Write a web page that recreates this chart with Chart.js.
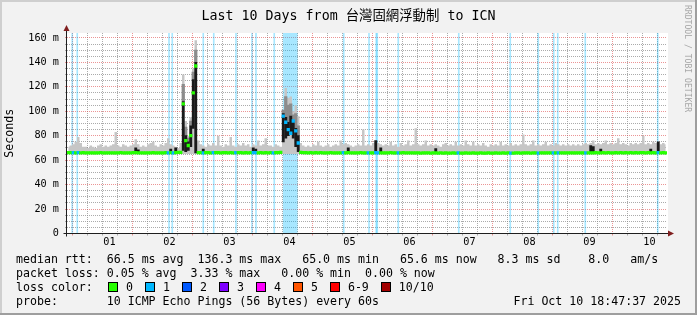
<!DOCTYPE html>
<html><head><meta charset="utf-8">
<script src="https://cdn.jsdelivr.net/npm/chart.js@4.4.1/dist/chart.umd.min.js"></script>
<style>
html,body{margin:0;padding:0;background:#f2f2f2;}
#wrap{position:relative;width:697px;height:315px;overflow:hidden;background:#f2f2f2;font-family:'DejaVu Sans Mono',monospace;color:#000;}
#c{position:absolute;left:0;top:0;}
.t{position:absolute;white-space:pre;font-family:'DejaVu Sans Mono',monospace;}
#title{left:0;top:6px;width:697px;text-align:center;font-size:13.3px;line-height:16px;}
#title .cjk{font-family:'Noto Sans CJK TC','Noto Sans CJK SC',sans-serif;font-size:13.4px;line-height:16px;}
.leg{left:16px;font-size:11.6px;line-height:14px;}
#lossrow{position:absolute;left:108px;top:280px;height:14px;display:flex;align-items:center;font-size:11.6px;line-height:14px;white-space:pre;}
#lossrow .box{display:inline-block;width:10px;height:10px;box-sizing:border-box;border:1px solid #000;margin-right:8px;}
#lossrow .lab{margin-right:12px;}
#date{right:16px;top:294px;font-size:11.6px;line-height:14px;}
#wm{left:693px;top:5px;font-size:8.1px;line-height:10px;color:#a6a6a6;transform:rotate(90deg);transform-origin:0 0;}
.edge{position:absolute;}
</style></head><body>
<div id="wrap">
<canvas id="c" width="697" height="315"></canvas>
<div class="edge" style="left:0;top:0;width:697px;height:2px;background:#cfcfcf"></div>
<div class="edge" style="left:0;top:0;width:2px;height:315px;background:#cfcfcf"></div>
<div class="edge" style="left:0;top:313px;width:697px;height:2px;background:#9e9e9e"></div>
<div class="edge" style="left:695px;top:0;width:2px;height:315px;background:#9e9e9e"></div>
<div id="title" class="t">Last 10 Days from <span class="cjk">台灣固網浮動制</span> to ICN</div>
<div id="wm" class="t">RRDTOOL / TOBI OETIKER</div>
<div class="t leg" style="top:252px">median rtt:  66.5 ms avg  136.3 ms max   65.0 ms min   65.6 ms now   8.3 ms sd    8.0   am/s</div>
<div class="t leg" style="top:266px">packet loss: 0.05 % avg  3.33 % max   0.00 % min  0.00 % now</div>
<div class="t leg" style="top:280px">loss color:</div>
<div id="lossrow"></div>
<div class="t leg" style="top:294px">probe:       10 ICMP Echo Pings (56 Bytes) every 60s</div>
<div id="date" class="t">Fri Oct 10 18:47:37 2025</div>
</div>
<script>
// ---------------- data ----------------
// hours relative to Oct 01 00:00; first hourly sample starts Sep 30 19:00
const hourStart = -5;
const hourEnd = 235;
const yMax = 164;
const dayLabels = ['01','02','03','04','05','06','07','08','09','10'];

// top of the ping smoke per hour (ms)
const smokeTop = [
 71,72,73,75,79,74,71,71,70,72,
 71,70,72,73,71,72,71,72,73,83,
 72,71,73,72,71,72,73,77,73,71,
 72,71,73,74,75,72,71,73,72,74,
 78,73,72,71,70,74,130,92,80,95,
 135,158,76,73,72,71,73,72,74,72,
 80,72,71,73,72,79,72,71,73,72,
 74,72,73,71,73,72,76,72,73,78,
 72,72,71,73,72,71,101,119,111,112,
 100,105,96,74,72,71,72,71,73,72,
 75,72,71,72,73,71,72,73,72,76,
 73,74,73,72,71,72,73,72,85,72,
 73,72,74,76,74,73,72,73,72,75,
 72,73,71,74,72,73,76,72,73,86,
 73,72,73,76,72,73,72,73,72,71,
 73,74,72,73,72,75,72,73,72,76,
 73,72,75,72,73,72,74,72,71,73,
 72,73,72,75,72,73,72,74,72,73,
 72,73,81,73,72,73,76,72,73,72,
 73,75,72,73,72,74,73,72,73,72,
 73,72,73,72,73,72,73,74,73,74,
 76,73,74,73,74,76,73,74,73,74,
 78,73,74,73,72,74,73,74,73,74,
 80,73,74,73,75,74,75,73,74,73
];

// median rtt per hour (ms)
const median = [
 66.2,66.1,66.2,66.0,66.1,66.0,66.1,66.0,65.9,66.0,
 66.0,65.9,66.0,66.1,66.0,65.9,66.0,66.0,65.9,66.0,
 66.0,66.1,66.0,65.9,66.0,66.0,66.1,66.2,66.0,65.9,
 66.0,66.0,65.9,66.0,66.1,66.0,65.9,66.0,66.0,66.1,
 66.0,66.1,66.0,66.2,66.3,66.4,106,76,72,80,
 115,137,66.2,66.1,66.0,66.2,66.1,66.0,66.1,66.2,
 66.1,66.0,66.1,66.2,66.0,66.1,66.0,66.1,66.2,66.1,
 66.0,66.1,66.0,66.1,66.2,66.1,66.0,66.1,66.0,66.1,
 66.0,66.1,66.0,66.1,66.2,66.3,96,91,85,82,
 92,84,74,66.4,66.2,66.1,66.0,66.1,66.0,66.1,
 66.0,66.1,66.0,65.9,66.0,66.1,66.0,66.0,65.9,66.0,
 66.1,66.0,66.1,66.0,65.9,66.0,66.0,66.1,66.0,66.0,
 65.9,66.0,66.0,66.1,66.0,66.0,65.9,66.0,66.0,66.1,
 66.0,65.9,66.0,66.0,66.1,66.0,66.0,65.9,65.9,66.0,
 65.9,65.8,65.9,66.0,65.9,65.8,65.9,65.9,65.8,65.9,
 65.8,65.9,65.8,65.8,65.9,65.8,65.9,65.8,65.8,65.9,
 65.8,65.8,65.9,65.8,65.8,65.9,65.8,65.8,65.9,65.8,
 65.8,65.9,65.8,65.8,65.9,65.8,65.9,65.8,65.8,65.9,
 65.9,65.8,65.9,66.0,65.9,65.8,65.9,65.9,65.8,65.9,
 65.9,66.0,65.9,65.9,66.0,65.9,65.9,66.0,65.9,66.0,
 66.0,65.9,66.0,66.0,65.9,66.0,66.0,65.9,66.0,66.0,
 66.0,66.1,66.0,66.0,66.1,66.0,66.1,66.0,66.0,66.1,
 66.0,66.1,66.0,66.1,66.0,66.1,66.0,66.1,66.0,66.1,
 66.1,66.0,66.1,66.0,66.1,66.0,66.1,66.0,66.1,66.0
];

// dark smoke core (hour index, low, high)
const coreHours = [27,28,41,43,46,47,48,49,50,51,54,74,75,86,87,88,89,90,91,92,112,123,125,147,209,210,213,233,236];
const coreLow   = [65.5,65.5,65.5,65.5,68,67,68,71,86,66,65.5,65.5,65.5,75,78,80,82,78,71,67,65.5,66,65.5,65.5,65.5,65.5,65.5,65.5,66];
const coreHigh  = [70,68.5,69,70,108,80,75,88,126,140,69,70,69,98,95,91,96,92,86,80,70,76,70,69.5,72,71,69,69,75];

// medium smoke (hour index, low, high)
const midHours = [46,47,48,49,50,51,86,87,88,89,90,91,92];
const midLow   = [108,80,75,88,126,140,98,95,91,96,92,86,80];
const midHigh  = [122,87,78,92,132,150,101,112,105,106,97,98,88];

// times (hours) with 1/10 packet loss, and the longer loss period
const lossTimes = [-2.9,-0.9,35.8,37.1,49.5,53.7,62.6,69.0,70.6,77.9,105.7,115.8,118.7,119.1,127.5,151.7,172.3,183.5,189.7,191.3,202.3,231.3];
const lossBand = [81.3, 87.3];

// legend
const lossLabels = ['0','1','2','3','4','5','6-9','10/10'];
const lossColors = ['#26ff00','#00b8ff','#0059ff','#7e00ff','#ff00ff','#ff5500','#ff0000','#a10000'];

// ---------------- legend row ----------------
const row = document.getElementById('lossrow');
lossLabels.forEach((l, k) => {
  const b = document.createElement('span'); b.className = 'box'; b.style.background = lossColors[k]; row.appendChild(b);
  const s = document.createElement('span'); s.className = 'lab'; s.textContent = l; row.appendChild(s);
});

// ---------------- chart ----------------
const centers = smokeTop.map((_, i) => hourStart + i + 0.5);
const lossHour = new Set();
lossTimes.forEach(t => lossHour.add(Math.floor(t - hourStart)));
median.forEach((m, i) => {
  const s = hourStart + i;
  if (s + 1 > lossBand[0] && s < lossBand[1]) lossHour.add(i);
});

const FONT = 'DejaVu Sans Mono';
const MAJ = 'rgba(222,79,79,0.6)';
const MIN = 'rgba(143,143,143,0.75)';
const LOSSBG = 'rgba(0,184,255,0.34)';

const frame = {
  id: 'frame',
  beforeDraw(chart) {
    const {ctx, chartArea: a} = chart;
    ctx.save(); ctx.fillStyle = '#ffffff';
    ctx.fillRect(a.left, a.top, a.right - a.left + 1, a.bottom - a.top);
    ctx.restore();
  },
  afterDraw(chart) {
    const {ctx, chartArea: a} = chart;
    const x0 = Math.round(a.left) - 0.5, y0 = Math.round(a.bottom) - 0.5;
    ctx.save();
    ctx.strokeStyle = '#1f1f1f'; ctx.lineWidth = 1;
    ctx.beginPath();
    ctx.moveTo(x0, y0 + 3); ctx.lineTo(x0, a.top - 3);
    ctx.moveTo(x0 - 3, y0); ctx.lineTo(a.right + 3, y0);
    ctx.stroke();
    ctx.fillStyle = '#801f1f';
    ctx.beginPath();
    ctx.moveTo(x0 - 3, a.top - 2); ctx.lineTo(x0 + 3, a.top - 2); ctx.lineTo(x0, a.top - 8); ctx.closePath(); ctx.fill();
    ctx.beginPath();
    ctx.moveTo(a.right + 1, y0 - 3); ctx.lineTo(a.right + 1, y0 + 3); ctx.lineTo(a.right + 7, y0); ctx.closePath(); ctx.fill();
    ctx.restore();
  }
};

new Chart(document.getElementById('c'), {
  type: 'bar',
  data: {
    datasets: [
      { type: 'bar', label: 'median', order: 0, grouped: false, barThickness: 2.6,
        data: median.map((m, i) => ({x: centers[i], y: [m - 1.1, m + 1.1]})),
        backgroundColor: median.map((m, i) => lossHour.has(i) ? lossColors[1] : lossColors[0]) },
      { type: 'bar', label: 'core', order: 1, grouped: false, barThickness: 2.2,
        data: coreHours.map((h, k) => ({x: centers[h], y: [coreLow[k], coreHigh[k]]})),
        backgroundColor: '#1a1a1a' },
      { type: 'bar', label: 'mid', order: 2, grouped: false, barThickness: 2.6,
        data: midHours.map((h, k) => ({x: centers[h], y: [midLow[k], midHigh[k]]})),
        backgroundColor: '#8c8c8c' },
      { type: 'line', label: 'smoke', order: 3, stepped: 'middle',
        data: smokeTop.map((v, i) => ({x: centers[i], y: v})),
        borderColor: 'transparent', borderWidth: 0, pointRadius: 0,
        backgroundColor: '#c6c6c6', fill: {value: 65} },
      { type: 'bar', label: 'loss', order: 5, grouped: false, barThickness: 1,
        data: lossTimes.map(t => ({x: t, y: [0, yMax]})),
        backgroundColor: LOSSBG },
      { type: 'line', label: 'lossband', order: 6,
        data: lossBand.map(t => ({x: t, y: yMax})),
        borderColor: 'transparent', borderWidth: 0, pointRadius: 0,
        backgroundColor: LOSSBG, fill: 'origin' }
    ]
  },
  options: {
    responsive: false, devicePixelRatio: 1, animation: false, events: [],
    layout: { padding: {left: 0, right: 30, top: 33, bottom: 0} },
    plugins: { legend: {display: false}, tooltip: {enabled: false}, title: {display: false} },
    scales: {
      x: {
        type: 'linear', min: hourStart, max: hourEnd, offset: false,
        afterFit(s) { s.height = 81.5; },
        afterBuildTicks(s) { const t = []; for (let v = 0; v < hourEnd; v += 6) t.push({value: v}); s.ticks = t; },
        grid: {
          color: c => (c.tick && c.tick.value % 24 === 0) ? MAJ : MIN,
          tickColor: c => (c.tick && c.tick.value % 24 === 0) ? MAJ : MIN,
          tickLength: 2, drawTicks: true
        },
        border: { display: false, dash: [1, 1] },
        ticks: {
          autoSkip: false, maxRotation: 0, padding: 1, color: '#000',
          font: {family: FONT, size: 10.2},
          callback: v => (v % 24 === 12) ? dayLabels[(v - 12) / 24] : ''
        }
      },
      y: {
        type: 'linear', min: 0, max: yMax,
        afterFit(s) { s.width = 67; },
        afterBuildTicks(s) { const t = []; for (let v = 0; v <= 160; v += 5) t.push({value: v}); s.ticks = t; },
        grid: {
          color: c => (!c.tick || c.tick.value === 0) ? 'transparent' : (c.tick.value % 20 === 0 ? MAJ : MIN),
          tickColor: c => (c.tick && c.tick.value % 20 === 0) ? MAJ : MIN,
          tickLength: 2, drawTicks: true
        },
        border: { display: false, dash: [1, 1] },
        ticks: {
          autoSkip: false, padding: 6, color: '#000',
          font: {family: FONT, size: 10.2},
          callback: v => (v % 20 === 0) ? (v === 0 ? '0' : v + ' m') : ''
        },
        title: { display: true, text: 'Seconds', color: '#000', font: {family: FONT, size: 11.6}, padding: {top: 3, bottom: 0} }
      }
    }
  },
  plugins: [frame]
});
</script>
</body></html>
